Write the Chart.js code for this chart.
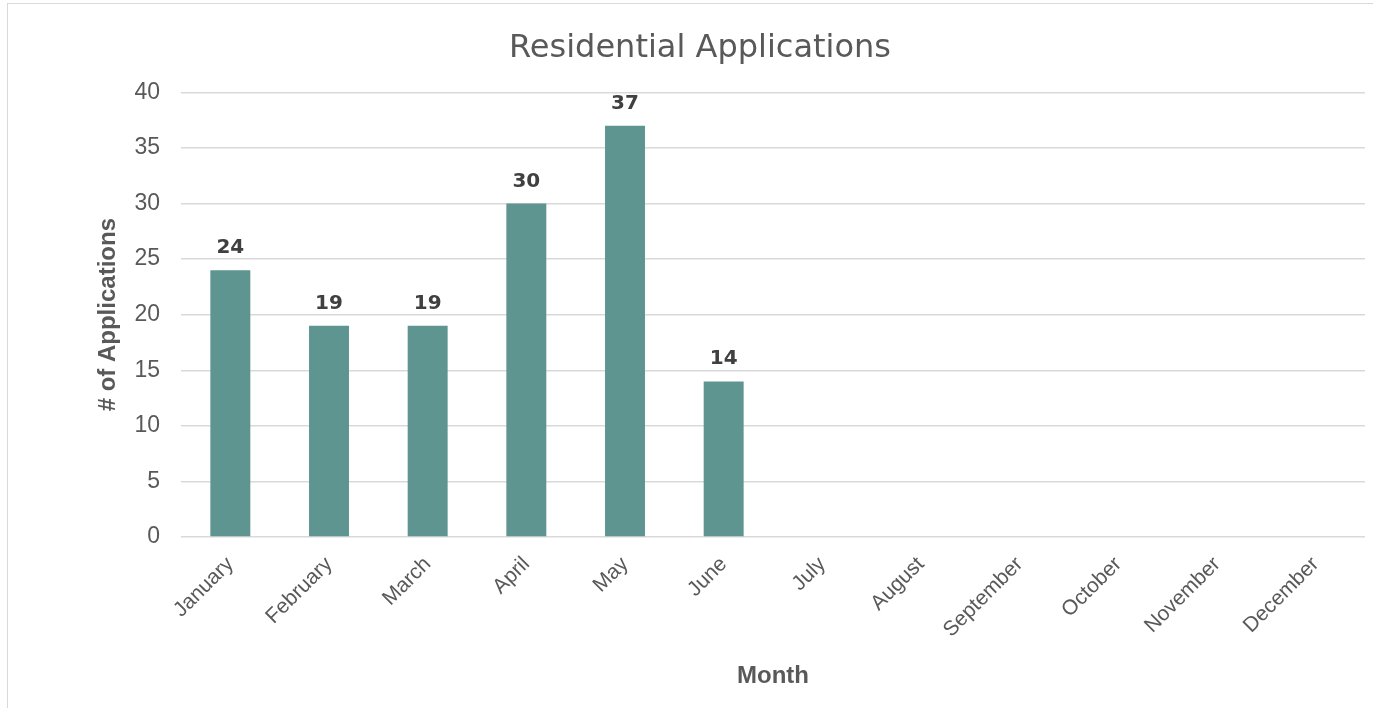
<!DOCTYPE html>
<html>
<head>
<meta charset="utf-8">
<script src="https://cdn.jsdelivr.net/npm/chart.js@4.4.1/dist/chart.umd.min.js"></script>
<style>
  html, body { margin: 0; padding: 0; background: #fff; }
  #wrap { position: relative; width: 1373px; height: 708px; }
  #frame { position: absolute; left: 7px; top: 3px; width: 1400px; height: 800px; border: 1.5px solid #d9d9d9; box-sizing: border-box; }
  canvas { position: absolute; left: 0; top: 0; }
</style>
</head>
<body>
<div id="wrap">
  <div id="frame"></div>
  <canvas id="chart" width="1373" height="708"></canvas>
</div>
<script>
const months = ["January", "February", "March", "April", "May", "June",
                "July", "August", "September", "October", "November", "December"];
const applications = [24, 19, 19, 30, 37, 14, null, null, null, null, null, null];
const yTicks = [0, 5, 10, 15, 20, 25, 30, 35, 40];

const sansFont = "'Liberation Sans', Arial, sans-serif";
const wideFont = "'DejaVu Sans', sans-serif";

// value labels above each bar
const barLabels = {
  id: 'barLabels',
  afterDatasetsDraw(chart) {
    const ctx = chart.ctx;
    const meta = chart.getDatasetMeta(0);
    ctx.save();
    ctx.font = "bold 20px " + wideFont;
    ctx.fillStyle = "#404040";
    ctx.textAlign = "center";
    ctx.textBaseline = "alphabetic";
    meta.data.forEach((bar, i) => {
      const v = applications[i];
      if (v === null) return;
      ctx.fillText(String(v), bar.x, bar.y - 17);
    });
    ctx.restore();
  }
};

const ctx = document.getElementById('chart');
new Chart(ctx, {
  type: 'bar',
  data: {
    labels: months,
    datasets: [{
      label: "Residential Applications",
      data: applications,
      backgroundColor: "#5e9591",
      barPercentage: 0.405,
      categoryPercentage: 1
    }]
  },
  options: {
    responsive: false,
    animation: false,
    // left padding pushes the centred title to the right like the original
    layout: { padding: { left: 35, right: 8, top: 0, bottom: 0 } },
    plugins: {
      legend: { display: false },
      tooltip: { enabled: false },
      title: {
        display: true,
        text: "Residential Applications",
        color: "#595959",
        font: { family: wideFont, size: 32, weight: 'normal' },
        padding: { top: 29, bottom: 25 }
      }
    },
    scales: {
      y: {
        min: 0,
        max: 40,
        afterBuildTicks(scale) {
          scale.ticks = yTicks.map(v => ({ value: v }));
        },
        afterFit(scale) { scale.width = 146; },
        border: { display: false },
        grid: { color: "#d9d9d9", lineWidth: 1.5, drawTicks: false },
        ticks: {
          color: "#595959",
          padding: 21,
          font: { family: sansFont, size: 23 }
        },
        title: {
          display: true,
          text: "# of Applications",
          color: "#595959",
          font: { family: sansFont, size: 24, weight: 'bold' },
          padding: { top: 59, bottom: 0 }
        }
      },
      x: {
        afterFit(scale) { scale.height = 171; },
        border: { display: false },
        grid: { display: false, drawTicks: false },
        ticks: {
          color: "#595959",
          padding: 15,
          minRotation: 45,
          maxRotation: 45,
          font: { family: sansFont, size: 21 }
        },
        title: {
          display: true,
          text: "Month",
          color: "#595959",
          font: { family: sansFont, size: 24, weight: 'bold' },
          padding: { top: 0, bottom: 17 }
        }
      }
    }
  },
  plugins: [barLabels]
});
</script>
</body>
</html>
